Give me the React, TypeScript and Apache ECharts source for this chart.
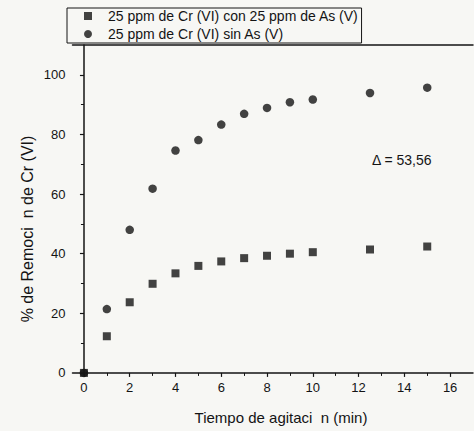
import React, { useEffect, useRef } from "react";
import * as echarts from "echarts";

const timeMin = [0, 1, 2, 3, 4, 5, 6, 7, 8, 9, 10, 12.5, 15];
const withAs = [0, 12.3, 23.7, 29.9, 33.4, 35.9, 37.4, 38.5, 39.3, 40.0, 40.5, 41.4, 42.4];
const withoutAs = [0, 21.4, 48.0, 61.8, 74.6, 78.1, 83.3, 86.9, 88.9, 90.8, 91.7, 93.9, 95.7];
const seriesNames = [
  "25 ppm de Cr (VI) con 25 ppm de As (V)",
  "25 ppm de Cr (VI) sin As (V)",
];
const xMajorTicks = [0, 2, 4, 6, 8, 10, 12, 14, 16];
const xMinorTicks = [1, 3, 5, 7, 9, 11, 13, 15];
const yMajorTicks = [0, 20, 40, 60, 80, 100];
const yMinorTicks = [10, 30, 50, 70, 90];
const deltaLabel = "\u0394 = 53,56";
const xTitle = "Tiempo de agitaci  n (min)";
const yTitle = "% de Remoci  n de Cr (VI)";

const FONT = "'Liberation Sans', Arial, sans-serif";
const INK = "#141414";

export default function App() {
  const ref = useRef<HTMLDivElement>(null);
  useEffect(() => {
    if (!ref.current) return;
    const chart = echarts.init(ref.current, null, { renderer: "svg" });
    const axisLine = { show: true, lineStyle: { color: INK, width: 1.5 } };
    chart.setOption({
      animation: false,
      backgroundColor: "#f7f7f4",
      textStyle: { fontFamily: FONT, color: INK },
      grid: { left: 72.5, right: 1, top: 45, bottom: 56 },
      legend: {
        left: 67,
        top: 8,
        orient: "vertical",
        itemWidth: 8,
        itemHeight: 8,
        itemGap: 4,
        padding: [1, 3, 2, 17],
        borderColor: INK,
        borderWidth: 1,
        textStyle: {
          fontFamily: FONT,
          fontSize: 14,
          color: INK,
          lineHeight: 14,
          padding: [0, 0, 0, 11],
        },
        data: [
          { name: seriesNames[0], icon: "rect" },
          { name: seriesNames[1], icon: "circle" },
        ],
      },
      xAxis: [
        {
          type: "value",
          min: -0.5,
          max: 17,
          position: "bottom",
          axisLine,
          splitLine: { show: false },
          axisTick: {
            show: true,
            inside: false,
            length: 4,
            customValues: xMajorTicks,
            lineStyle: { color: INK, width: 1.2 },
          },
          axisLabel: {
            show: true,
            customValues: xMajorTicks,
            fontSize: 13,
            margin: 6,
            color: INK,
            fontFamily: FONT,
          },
        },
        {
          type: "value",
          min: -0.5,
          max: 17,
          position: "bottom",
          axisLine: { show: false },
          splitLine: { show: false },
          axisTick: {
            show: true,
            length: 3,
            customValues: xMinorTicks,
            lineStyle: { color: INK, width: 1 },
          },
          axisLabel: { show: false },
        },
        {
          type: "value",
          min: -0.5,
          max: 17,
          position: "top",
          axisLine,
          splitLine: { show: false },
          axisTick: { show: false },
          axisLabel: { show: false },
        },
      ],
      yAxis: [
        {
          type: "value",
          min: -0.7,
          max: 110,
          position: "left",
          axisLine,
          splitLine: { show: false },
          axisTick: {
            show: true,
            length: 4,
            customValues: yMajorTicks,
            lineStyle: { color: INK, width: 1.2 },
          },
          axisLabel: {
            show: true,
            customValues: yMajorTicks,
            fontSize: 13,
            margin: 7,
            color: INK,
            fontFamily: FONT,
          },
        },
        {
          type: "value",
          min: -0.7,
          max: 110,
          position: "left",
          axisLine: { show: false },
          splitLine: { show: false },
          axisTick: {
            show: true,
            length: 3,
            customValues: yMinorTicks,
            lineStyle: { color: INK, width: 1 },
          },
          axisLabel: { show: false },
        },
      ],
      graphic: [
        {
          type: "text",
          x: 27,
          y: 229,
          rotation: Math.PI / 2,
          style: {
            text: yTitle,
            font: `16px ${FONT}`,
            fill: INK,
            align: "center",
            verticalAlign: "middle",
          },
        },
        {
          type: "text",
          x: 281,
          y: 417,
          style: {
            text: xTitle,
            font: `15px ${FONT}`,
            fill: INK,
            align: "center",
            verticalAlign: "middle",
          },
        },
        {
          type: "text",
          x: 372,
          y: 160,
          style: {
            text: deltaLabel,
            font: `14px ${FONT}`,
            fill: INK,
            align: "left",
            verticalAlign: "middle",
          },
        },
      ],
      series: [
        {
          name: seriesNames[0],
          type: "scatter",
          xAxisIndex: 0,
          yAxisIndex: 0,
          symbol: "rect",
          symbolSize: 8,
          itemStyle: { color: INK },
          data: timeMin.map((t, i) => [t, withAs[i]]),
        },
        {
          name: seriesNames[1],
          type: "scatter",
          xAxisIndex: 0,
          yAxisIndex: 0,
          symbol: "circle",
          symbolSize: 8.5,
          itemStyle: { color: INK },
          data: timeMin.map((t, i) => [t, withoutAs[i]]),
        },
      ],
    });
    return () => chart.dispose();
  }, []);
  return (
    <div
      ref={ref}
      style={{ position: "absolute", left: 0, top: 0, width: 474, height: 431 }}
    />
  );
}
